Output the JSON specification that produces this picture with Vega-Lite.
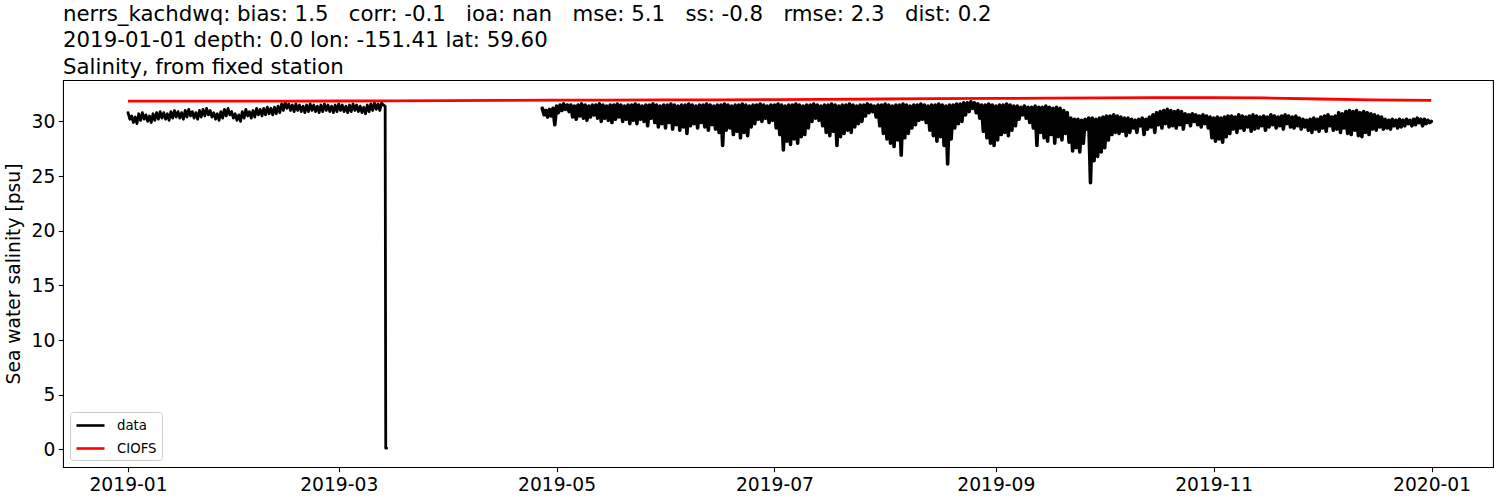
{
"$schema": "https://vega.github.io/schema/vega-lite/v6.json",
"width": 1430, "height": 387,
"autosize": {"type": "none"},
"padding": {"left": 63, "top": 80, "right": 7, "bottom": 33},
"background": "white",
"title": {"text": ["nerrs_kachdwq: bias: 1.5\u00a0\u00a0 corr: -0.1\u00a0\u00a0 ioa: nan\u00a0\u00a0 mse: 5.1\u00a0\u00a0 ss: -0.8\u00a0\u00a0 rmse: 2.3\u00a0\u00a0 dist: 0.2", "2019-01-01 depth: 0.0 lon: -151.41 lat: 59.60", "Salinity, from fixed station"], "anchor": "start", "frame": "group", "fontSize": 21.3, "font": "DejaVu Sans", "fontWeight": "normal", "color": "black", "lineHeight": 26.5, "baseline": "bottom", "offset": -19},
"datasets": {
"d1": [
{"t":"2019-01-01T00:00","v":30.8},{"t":"2019-01-01T12:00","v":30.2},
{"t":"2019-01-02T00:00","v":30.5},{"t":"2019-01-02T12:00","v":29.9},
{"t":"2019-01-03T00:00","v":30.4},{"t":"2019-01-03T12:00","v":29.8},
{"t":"2019-01-04T00:00","v":30.7},{"t":"2019-01-04T12:00","v":30.1},
{"t":"2019-01-05T00:00","v":30.8},{"t":"2019-01-05T12:00","v":30.2},
{"t":"2019-01-06T00:00","v":30.6},{"t":"2019-01-06T12:00","v":30.0},
{"t":"2019-01-07T00:00","v":30.5},{"t":"2019-01-07T12:00","v":29.9},
{"t":"2019-01-08T00:00","v":30.7},{"t":"2019-01-08T12:00","v":30.1},
{"t":"2019-01-09T00:00","v":30.8},{"t":"2019-01-09T12:00","v":30.2},
{"t":"2019-01-10T00:00","v":30.9},{"t":"2019-01-10T12:00","v":30.3},
{"t":"2019-01-11T00:00","v":30.8},{"t":"2019-01-11T12:00","v":30.2},
{"t":"2019-01-12T00:00","v":30.7},{"t":"2019-01-12T12:00","v":30.1},
{"t":"2019-01-13T00:00","v":30.9},{"t":"2019-01-13T12:00","v":30.3},
{"t":"2019-01-14T00:00","v":31.0},{"t":"2019-01-14T12:00","v":30.4},
{"t":"2019-01-15T00:00","v":30.9},{"t":"2019-01-15T12:00","v":30.3},
{"t":"2019-01-16T00:00","v":30.8},{"t":"2019-01-16T12:00","v":30.2},
{"t":"2019-01-17T00:00","v":31.0},{"t":"2019-01-17T12:00","v":30.4},
{"t":"2019-01-18T00:00","v":31.1},{"t":"2019-01-18T12:00","v":30.5},
{"t":"2019-01-19T00:00","v":30.9},{"t":"2019-01-19T12:00","v":30.3},
{"t":"2019-01-20T00:00","v":30.8},{"t":"2019-01-20T12:00","v":30.2},
{"t":"2019-01-21T00:00","v":31.0},{"t":"2019-01-21T12:00","v":30.4},
{"t":"2019-01-22T00:00","v":31.1},{"t":"2019-01-22T12:00","v":30.5},
{"t":"2019-01-23T00:00","v":31.2},{"t":"2019-01-23T12:00","v":30.6},
{"t":"2019-01-24T00:00","v":31.0},{"t":"2019-01-24T12:00","v":30.4},
{"t":"2019-01-25T00:00","v":30.8},{"t":"2019-01-25T12:00","v":30.2},
{"t":"2019-01-26T00:00","v":30.7},{"t":"2019-01-26T12:00","v":30.1},
{"t":"2019-01-27T00:00","v":30.9},{"t":"2019-01-27T12:00","v":30.3},
{"t":"2019-01-28T00:00","v":31.1},{"t":"2019-01-28T12:00","v":30.5},
{"t":"2019-01-29T00:00","v":31.2},{"t":"2019-01-29T12:00","v":30.6},
{"t":"2019-01-30T00:00","v":30.9},{"t":"2019-01-30T12:00","v":30.3},
{"t":"2019-01-31T00:00","v":30.7},{"t":"2019-01-31T12:00","v":30.1},
{"t":"2019-02-01T00:00","v":30.6},{"t":"2019-02-01T12:00","v":30.0},
{"t":"2019-02-02T00:00","v":30.9},{"t":"2019-02-02T12:00","v":30.3},
{"t":"2019-02-03T00:00","v":31.1},{"t":"2019-02-03T12:00","v":30.5},
{"t":"2019-02-04T00:00","v":30.9},{"t":"2019-02-04T12:00","v":30.3},
{"t":"2019-02-05T00:00","v":31.0},{"t":"2019-02-05T12:00","v":30.4},
{"t":"2019-02-06T00:00","v":31.2},{"t":"2019-02-06T12:00","v":30.6},
{"t":"2019-02-07T00:00","v":31.1},{"t":"2019-02-07T12:00","v":30.5},
{"t":"2019-02-08T00:00","v":31.2},{"t":"2019-02-08T12:00","v":30.6},
{"t":"2019-02-09T00:00","v":31.3},{"t":"2019-02-09T12:00","v":30.7},
{"t":"2019-02-10T00:00","v":31.2},{"t":"2019-02-10T12:00","v":30.6},
{"t":"2019-02-11T00:00","v":31.3},{"t":"2019-02-11T12:00","v":30.7},
{"t":"2019-02-12T00:00","v":31.4},{"t":"2019-02-12T12:00","v":30.8},
{"t":"2019-02-13T00:00","v":31.6},{"t":"2019-02-13T12:00","v":31.0},
{"t":"2019-02-14T00:00","v":31.8},{"t":"2019-02-14T12:00","v":31.2},
{"t":"2019-02-15T00:00","v":31.6},{"t":"2019-02-15T12:00","v":31.0},
{"t":"2019-02-16T00:00","v":31.5},{"t":"2019-02-16T12:00","v":30.9},
{"t":"2019-02-17T00:00","v":31.6},{"t":"2019-02-17T12:00","v":31.0},
{"t":"2019-02-18T00:00","v":31.5},{"t":"2019-02-18T12:00","v":30.9},
{"t":"2019-02-19T00:00","v":31.4},{"t":"2019-02-19T12:00","v":30.8},
{"t":"2019-02-20T00:00","v":31.5},{"t":"2019-02-20T12:00","v":30.9},
{"t":"2019-02-21T00:00","v":31.6},{"t":"2019-02-21T12:00","v":31.0},
{"t":"2019-02-22T00:00","v":31.5},{"t":"2019-02-22T12:00","v":30.9},
{"t":"2019-02-23T00:00","v":31.4},{"t":"2019-02-23T12:00","v":30.8},
{"t":"2019-02-24T00:00","v":31.5},{"t":"2019-02-24T12:00","v":30.9},
{"t":"2019-02-25T00:00","v":31.6},{"t":"2019-02-25T12:00","v":31.0},
{"t":"2019-02-26T00:00","v":31.5},{"t":"2019-02-26T12:00","v":30.9},
{"t":"2019-02-27T00:00","v":31.4},{"t":"2019-02-27T12:00","v":30.8},
{"t":"2019-02-28T00:00","v":31.5},{"t":"2019-02-28T12:00","v":30.9},
{"t":"2019-03-01T00:00","v":31.6},{"t":"2019-03-01T12:00","v":31.0},
{"t":"2019-03-02T00:00","v":31.5},{"t":"2019-03-02T12:00","v":30.9},
{"t":"2019-03-03T00:00","v":31.4},{"t":"2019-03-03T12:00","v":30.8},
{"t":"2019-03-04T00:00","v":31.5},{"t":"2019-03-04T12:00","v":30.9},
{"t":"2019-03-05T00:00","v":31.6},{"t":"2019-03-05T12:00","v":31.0},
{"t":"2019-03-06T00:00","v":31.5},{"t":"2019-03-06T12:00","v":30.9},
{"t":"2019-03-07T00:00","v":31.4},{"t":"2019-03-07T12:00","v":30.8},
{"t":"2019-03-08T00:00","v":31.3},{"t":"2019-03-08T12:00","v":30.7},
{"t":"2019-03-09T00:00","v":31.5},{"t":"2019-03-09T12:00","v":30.9},
{"t":"2019-03-10T00:00","v":31.6},{"t":"2019-03-10T12:00","v":31.0},
{"t":"2019-03-11T00:00","v":31.7},{"t":"2019-03-11T12:00","v":31.1},
{"t":"2019-03-12T00:00","v":31.6},{"t":"2019-03-12T12:00","v":31.0},
{"t":"2019-03-13T00:00","v":31.7},{"t":"2019-03-13T12:00","v":31.5},
{"t":"2019-03-14T00:00","v":31.4},{"t":"2019-03-14T04:00","v":0.1},
{"t":"2019-03-14T10:00","v":0.1}
],
"d2": [
{"t":"2019-04-27T00:00","v":31.2},{"t":"2019-04-27T12:00","v":30.6},
{"t":"2019-04-28T00:00","v":31.0},{"t":"2019-04-28T12:00","v":30.4},
{"t":"2019-04-29T00:00","v":31.1},{"t":"2019-04-29T12:00","v":30.5},
{"t":"2019-04-30T00:00","v":31.2},{"t":"2019-04-30T12:00","v":29.7},
{"t":"2019-05-01T00:00","v":31.4},{"t":"2019-05-01T12:00","v":30.8},
{"t":"2019-05-02T00:00","v":31.5},{"t":"2019-05-02T12:00","v":31.0},
{"t":"2019-05-03T00:00","v":31.6},{"t":"2019-05-03T12:00","v":31.1},
{"t":"2019-05-04T00:00","v":31.5},{"t":"2019-05-04T12:00","v":30.9},
{"t":"2019-05-05T00:00","v":31.5},{"t":"2019-05-05T12:00","v":30.4},
{"t":"2019-05-06T00:00","v":31.4},{"t":"2019-05-06T12:00","v":30.2},
{"t":"2019-05-07T00:00","v":31.5},{"t":"2019-05-07T12:00","v":30.5},
{"t":"2019-05-08T00:00","v":31.6},{"t":"2019-05-08T12:00","v":30.3},
{"t":"2019-05-09T00:00","v":31.5},{"t":"2019-05-09T12:00","v":30.1},
{"t":"2019-05-10T00:00","v":31.4},{"t":"2019-05-10T12:00","v":30.4},
{"t":"2019-05-11T00:00","v":31.5},{"t":"2019-05-11T12:00","v":30.6},
{"t":"2019-05-12T00:00","v":31.5},{"t":"2019-05-12T12:00","v":30.3},
{"t":"2019-05-13T00:00","v":31.6},{"t":"2019-05-13T12:00","v":30.0},
{"t":"2019-05-14T00:00","v":31.5},{"t":"2019-05-14T12:00","v":30.3},
{"t":"2019-05-15T00:00","v":31.4},{"t":"2019-05-15T12:00","v":30.1},
{"t":"2019-05-16T00:00","v":31.5},{"t":"2019-05-16T12:00","v":29.9},
{"t":"2019-05-17T00:00","v":31.5},{"t":"2019-05-17T12:00","v":30.2},
{"t":"2019-05-18T00:00","v":31.6},{"t":"2019-05-18T12:00","v":30.4},
{"t":"2019-05-19T00:00","v":31.5},{"t":"2019-05-19T12:00","v":30.0},
{"t":"2019-05-20T00:00","v":31.4},{"t":"2019-05-20T12:00","v":30.2},
{"t":"2019-05-21T00:00","v":31.5},{"t":"2019-05-21T12:00","v":29.8},
{"t":"2019-05-22T00:00","v":31.5},{"t":"2019-05-22T12:00","v":30.1},
{"t":"2019-05-23T00:00","v":31.6},{"t":"2019-05-23T12:00","v":29.8},
{"t":"2019-05-24T00:00","v":31.5},{"t":"2019-05-24T12:00","v":30.2},
{"t":"2019-05-25T00:00","v":31.4},{"t":"2019-05-25T12:00","v":30.0},
{"t":"2019-05-26T00:00","v":31.5},{"t":"2019-05-26T12:00","v":29.6},
{"t":"2019-05-27T00:00","v":31.5},{"t":"2019-05-27T12:00","v":30.3},
{"t":"2019-05-28T00:00","v":31.6},{"t":"2019-05-28T12:00","v":29.9},
{"t":"2019-05-29T00:00","v":31.5},{"t":"2019-05-29T12:00","v":29.5},
{"t":"2019-05-30T00:00","v":31.4},{"t":"2019-05-30T12:00","v":29.8},
{"t":"2019-05-31T00:00","v":31.5},{"t":"2019-05-31T12:00","v":29.4},
{"t":"2019-06-01T00:00","v":31.5},{"t":"2019-06-01T12:00","v":29.9},
{"t":"2019-06-02T00:00","v":31.6},{"t":"2019-06-02T12:00","v":29.3},
{"t":"2019-06-03T00:00","v":31.5},{"t":"2019-06-03T12:00","v":29.7},
{"t":"2019-06-04T00:00","v":31.4},{"t":"2019-06-04T12:00","v":29.2},
{"t":"2019-06-05T00:00","v":31.5},{"t":"2019-06-05T12:00","v":29.5},
{"t":"2019-06-06T00:00","v":31.5},{"t":"2019-06-06T12:00","v":28.9},
{"t":"2019-06-07T00:00","v":31.6},{"t":"2019-06-07T12:00","v":29.6},
{"t":"2019-06-08T00:00","v":31.5},{"t":"2019-06-08T12:00","v":29.8},
{"t":"2019-06-09T00:00","v":31.4},{"t":"2019-06-09T12:00","v":29.4},
{"t":"2019-06-10T00:00","v":31.5},{"t":"2019-06-10T12:00","v":29.9},
{"t":"2019-06-11T00:00","v":31.5},{"t":"2019-06-11T12:00","v":29.5},
{"t":"2019-06-12T00:00","v":31.6},{"t":"2019-06-12T12:00","v":29.2},
{"t":"2019-06-13T00:00","v":31.5},{"t":"2019-06-13T12:00","v":29.7},
{"t":"2019-06-14T00:00","v":31.4},{"t":"2019-06-14T12:00","v":29.3},
{"t":"2019-06-15T00:00","v":31.5},{"t":"2019-06-15T12:00","v":29.0},
{"t":"2019-06-16T00:00","v":31.5},{"t":"2019-06-16T12:00","v":27.8},
{"t":"2019-06-17T00:00","v":31.6},{"t":"2019-06-17T12:00","v":29.2},
{"t":"2019-06-18T00:00","v":31.5},{"t":"2019-06-18T12:00","v":29.4},
{"t":"2019-06-19T00:00","v":31.4},{"t":"2019-06-19T12:00","v":28.8},
{"t":"2019-06-20T00:00","v":31.5},{"t":"2019-06-20T12:00","v":29.1},
{"t":"2019-06-21T00:00","v":31.5},{"t":"2019-06-21T12:00","v":28.5},
{"t":"2019-06-22T00:00","v":31.6},{"t":"2019-06-22T12:00","v":29.0},
{"t":"2019-06-23T00:00","v":31.5},{"t":"2019-06-23T12:00","v":28.7},
{"t":"2019-06-24T00:00","v":31.4},{"t":"2019-06-24T12:00","v":29.5},
{"t":"2019-06-25T00:00","v":31.5},{"t":"2019-06-25T12:00","v":29.8},
{"t":"2019-06-26T00:00","v":31.5},{"t":"2019-06-26T12:00","v":30.2},
{"t":"2019-06-27T00:00","v":31.6},{"t":"2019-06-27T12:00","v":30.0},
{"t":"2019-06-28T00:00","v":31.5},{"t":"2019-06-28T12:00","v":30.3},
{"t":"2019-06-29T00:00","v":31.4},{"t":"2019-06-29T12:00","v":29.9},
{"t":"2019-06-30T00:00","v":31.5},{"t":"2019-06-30T12:00","v":30.1},
{"t":"2019-07-01T00:00","v":31.5},{"t":"2019-07-01T12:00","v":29.4},
{"t":"2019-07-02T00:00","v":31.6},{"t":"2019-07-02T12:00","v":28.8},
{"t":"2019-07-03T00:00","v":31.5},{"t":"2019-07-03T12:00","v":27.4},
{"t":"2019-07-04T00:00","v":31.4},{"t":"2019-07-04T12:00","v":28.2},
{"t":"2019-07-05T00:00","v":31.5},{"t":"2019-07-05T12:00","v":27.9},
{"t":"2019-07-06T00:00","v":31.5},{"t":"2019-07-06T12:00","v":28.4},
{"t":"2019-07-07T00:00","v":31.6},{"t":"2019-07-07T12:00","v":28.0},
{"t":"2019-07-08T00:00","v":31.5},{"t":"2019-07-08T12:00","v":28.6},
{"t":"2019-07-09T00:00","v":31.4},{"t":"2019-07-09T12:00","v":28.8},
{"t":"2019-07-10T00:00","v":31.5},{"t":"2019-07-10T12:00","v":29.4},
{"t":"2019-07-11T00:00","v":31.5},{"t":"2019-07-11T12:00","v":30.0},
{"t":"2019-07-12T00:00","v":31.6},{"t":"2019-07-12T12:00","v":30.3},
{"t":"2019-07-13T00:00","v":31.5},{"t":"2019-07-13T12:00","v":30.1},
{"t":"2019-07-14T00:00","v":31.4},{"t":"2019-07-14T12:00","v":29.6},
{"t":"2019-07-15T00:00","v":31.5},{"t":"2019-07-15T12:00","v":29.0},
{"t":"2019-07-16T00:00","v":31.5},{"t":"2019-07-16T12:00","v":28.7},
{"t":"2019-07-17T00:00","v":31.6},{"t":"2019-07-17T12:00","v":29.1},
{"t":"2019-07-18T00:00","v":31.5},{"t":"2019-07-18T12:00","v":27.8},
{"t":"2019-07-19T00:00","v":31.4},{"t":"2019-07-19T12:00","v":28.6},
{"t":"2019-07-20T00:00","v":31.5},{"t":"2019-07-20T12:00","v":28.9},
{"t":"2019-07-21T00:00","v":31.5},{"t":"2019-07-21T12:00","v":29.2},
{"t":"2019-07-22T00:00","v":31.6},{"t":"2019-07-22T12:00","v":29.0},
{"t":"2019-07-23T00:00","v":31.5},{"t":"2019-07-23T12:00","v":29.5},
{"t":"2019-07-24T00:00","v":31.4},{"t":"2019-07-24T12:00","v":29.8},
{"t":"2019-07-25T00:00","v":31.5},{"t":"2019-07-25T12:00","v":30.0},
{"t":"2019-07-26T00:00","v":31.5},{"t":"2019-07-26T12:00","v":30.5},
{"t":"2019-07-27T00:00","v":31.6},{"t":"2019-07-27T12:00","v":30.8},
{"t":"2019-07-28T00:00","v":31.5},{"t":"2019-07-28T12:00","v":30.9},
{"t":"2019-07-29T00:00","v":31.4},{"t":"2019-07-29T12:00","v":30.4},
{"t":"2019-07-30T00:00","v":31.5},{"t":"2019-07-30T12:00","v":29.6},
{"t":"2019-07-31T00:00","v":31.5},{"t":"2019-07-31T12:00","v":28.9},
{"t":"2019-08-01T00:00","v":31.6},{"t":"2019-08-01T12:00","v":28.4},
{"t":"2019-08-02T00:00","v":31.5},{"t":"2019-08-02T12:00","v":28.0},
{"t":"2019-08-03T00:00","v":31.4},{"t":"2019-08-03T12:00","v":27.7},
{"t":"2019-08-04T00:00","v":31.5},{"t":"2019-08-04T12:00","v":28.3},
{"t":"2019-08-05T00:00","v":31.5},{"t":"2019-08-05T12:00","v":26.9},
{"t":"2019-08-06T00:00","v":31.6},{"t":"2019-08-06T12:00","v":28.5},
{"t":"2019-08-07T00:00","v":31.5},{"t":"2019-08-07T12:00","v":28.9},
{"t":"2019-08-08T00:00","v":31.4},{"t":"2019-08-08T12:00","v":29.4},
{"t":"2019-08-09T00:00","v":31.5},{"t":"2019-08-09T12:00","v":29.7},
{"t":"2019-08-10T00:00","v":31.5},{"t":"2019-08-10T12:00","v":30.1},
{"t":"2019-08-11T00:00","v":31.6},{"t":"2019-08-11T12:00","v":30.2},
{"t":"2019-08-12T00:00","v":31.5},{"t":"2019-08-12T12:00","v":29.9},
{"t":"2019-08-13T00:00","v":31.4},{"t":"2019-08-13T12:00","v":29.2},
{"t":"2019-08-14T00:00","v":31.5},{"t":"2019-08-14T12:00","v":28.7},
{"t":"2019-08-15T00:00","v":31.5},{"t":"2019-08-15T12:00","v":28.2},
{"t":"2019-08-16T00:00","v":31.6},{"t":"2019-08-16T12:00","v":28.6},
{"t":"2019-08-17T00:00","v":31.5},{"t":"2019-08-17T12:00","v":27.8},
{"t":"2019-08-18T00:00","v":31.4},{"t":"2019-08-18T12:00","v":26.1},
{"t":"2019-08-19T00:00","v":31.5},{"t":"2019-08-19T12:00","v":28.4},
{"t":"2019-08-20T00:00","v":31.5},{"t":"2019-08-20T12:00","v":29.4},
{"t":"2019-08-21T00:00","v":31.6},{"t":"2019-08-21T12:00","v":29.8},
{"t":"2019-08-22T00:00","v":31.6},{"t":"2019-08-22T12:00","v":30.0},
{"t":"2019-08-23T00:00","v":31.7},{"t":"2019-08-23T12:00","v":30.6},
{"t":"2019-08-24T00:00","v":31.7},{"t":"2019-08-24T12:00","v":30.9},
{"t":"2019-08-25T00:00","v":31.8},{"t":"2019-08-25T12:00","v":31.2},
{"t":"2019-08-26T00:00","v":31.7},{"t":"2019-08-26T12:00","v":30.8},
{"t":"2019-08-27T00:00","v":31.6},{"t":"2019-08-27T12:00","v":30.3},
{"t":"2019-08-28T00:00","v":31.5},{"t":"2019-08-28T12:00","v":29.1},
{"t":"2019-08-29T00:00","v":31.5},{"t":"2019-08-29T12:00","v":28.5},
{"t":"2019-08-30T00:00","v":31.6},{"t":"2019-08-30T12:00","v":28.0},
{"t":"2019-08-31T00:00","v":31.5},{"t":"2019-08-31T12:00","v":27.8},
{"t":"2019-09-01T00:00","v":31.4},{"t":"2019-09-01T12:00","v":28.3},
{"t":"2019-09-02T00:00","v":31.5},{"t":"2019-09-02T12:00","v":28.8},
{"t":"2019-09-03T00:00","v":31.5},{"t":"2019-09-03T12:00","v":29.0},
{"t":"2019-09-04T00:00","v":31.6},{"t":"2019-09-04T12:00","v":28.7},
{"t":"2019-09-05T00:00","v":31.5},{"t":"2019-09-05T12:00","v":29.2},
{"t":"2019-09-06T00:00","v":31.4},{"t":"2019-09-06T12:00","v":29.6},
{"t":"2019-09-07T00:00","v":31.4},{"t":"2019-09-07T12:00","v":30.2},
{"t":"2019-09-08T00:00","v":31.3},{"t":"2019-09-08T12:00","v":30.6},
{"t":"2019-09-09T00:00","v":31.4},{"t":"2019-09-09T12:00","v":30.3},
{"t":"2019-09-10T00:00","v":31.3},{"t":"2019-09-10T12:00","v":29.9},
{"t":"2019-09-11T00:00","v":31.3},{"t":"2019-09-11T12:00","v":29.4},
{"t":"2019-09-12T00:00","v":31.4},{"t":"2019-09-12T12:00","v":27.8},
{"t":"2019-09-13T00:00","v":31.3},{"t":"2019-09-13T12:00","v":29.0},
{"t":"2019-09-14T00:00","v":31.3},{"t":"2019-09-14T12:00","v":28.5},
{"t":"2019-09-15T00:00","v":31.4},{"t":"2019-09-15T12:00","v":28.2},
{"t":"2019-09-16T00:00","v":31.3},{"t":"2019-09-16T12:00","v":28.8},
{"t":"2019-09-17T00:00","v":31.2},{"t":"2019-09-17T12:00","v":28.0},
{"t":"2019-09-18T00:00","v":31.3},{"t":"2019-09-18T12:00","v":28.6},
{"t":"2019-09-19T00:00","v":31.2},{"t":"2019-09-19T12:00","v":28.3},
{"t":"2019-09-20T00:00","v":31.0},{"t":"2019-09-20T12:00","v":28.9},
{"t":"2019-09-21T00:00","v":30.8},{"t":"2019-09-21T12:00","v":28.1},
{"t":"2019-09-22T00:00","v":30.3},{"t":"2019-09-22T12:00","v":27.3},
{"t":"2019-09-23T00:00","v":30.2},{"t":"2019-09-23T12:00","v":27.6},
{"t":"2019-09-24T00:00","v":30.2},{"t":"2019-09-24T12:00","v":27.2},
{"t":"2019-09-25T00:00","v":30.1},{"t":"2019-09-25T12:00","v":28.0},
{"t":"2019-09-26T00:00","v":30.2},{"t":"2019-09-26T12:00","v":29.3},
{"t":"2019-09-27T00:00","v":30.3},{"t":"2019-09-27T12:00","v":24.4},
{"t":"2019-09-28T00:00","v":30.3},{"t":"2019-09-28T12:00","v":26.4},
{"t":"2019-09-29T00:00","v":30.2},{"t":"2019-09-29T12:00","v":26.8},
{"t":"2019-09-30T00:00","v":30.3},{"t":"2019-09-30T12:00","v":27.2},
{"t":"2019-10-01T00:00","v":30.4},{"t":"2019-10-01T12:00","v":27.6},
{"t":"2019-10-02T00:00","v":30.5},{"t":"2019-10-02T12:00","v":28.3},
{"t":"2019-10-03T00:00","v":30.5},{"t":"2019-10-03T12:00","v":28.8},
{"t":"2019-10-04T00:00","v":30.6},{"t":"2019-10-04T12:00","v":29.0},
{"t":"2019-10-05T00:00","v":30.5},{"t":"2019-10-05T12:00","v":28.9},
{"t":"2019-10-06T00:00","v":30.4},{"t":"2019-10-06T12:00","v":29.1},
{"t":"2019-10-07T00:00","v":30.3},{"t":"2019-10-07T12:00","v":28.7},
{"t":"2019-10-08T00:00","v":30.3},{"t":"2019-10-08T12:00","v":29.0},
{"t":"2019-10-09T00:00","v":30.2},{"t":"2019-10-09T12:00","v":29.4},
{"t":"2019-10-10T00:00","v":30.1},{"t":"2019-10-10T12:00","v":29.0},
{"t":"2019-10-11T00:00","v":30.2},{"t":"2019-10-11T12:00","v":29.6},
{"t":"2019-10-12T00:00","v":30.3},{"t":"2019-10-12T12:00","v":28.8},
{"t":"2019-10-13T00:00","v":30.2},{"t":"2019-10-13T12:00","v":29.3},
{"t":"2019-10-14T00:00","v":30.4},{"t":"2019-10-14T12:00","v":29.5},
{"t":"2019-10-15T00:00","v":30.6},{"t":"2019-10-15T12:00","v":29.0},
{"t":"2019-10-16T00:00","v":30.8},{"t":"2019-10-16T12:00","v":29.7},
{"t":"2019-10-17T00:00","v":30.9},{"t":"2019-10-17T12:00","v":29.4},
{"t":"2019-10-18T00:00","v":31.0},{"t":"2019-10-18T12:00","v":29.8},
{"t":"2019-10-19T00:00","v":31.1},{"t":"2019-10-19T12:00","v":29.5},
{"t":"2019-10-20T00:00","v":31.0},{"t":"2019-10-20T12:00","v":29.6},
{"t":"2019-10-21T00:00","v":30.9},{"t":"2019-10-21T12:00","v":29.4},
{"t":"2019-10-22T00:00","v":31.0},{"t":"2019-10-22T12:00","v":29.7},
{"t":"2019-10-23T00:00","v":30.9},{"t":"2019-10-23T12:00","v":29.3},
{"t":"2019-10-24T00:00","v":30.7},{"t":"2019-10-24T12:00","v":29.9},
{"t":"2019-10-25T00:00","v":30.6},{"t":"2019-10-25T12:00","v":29.6},
{"t":"2019-10-26T00:00","v":30.7},{"t":"2019-10-26T12:00","v":30.0},
{"t":"2019-10-27T00:00","v":30.6},{"t":"2019-10-27T12:00","v":29.7},
{"t":"2019-10-28T00:00","v":30.5},{"t":"2019-10-28T12:00","v":29.5},
{"t":"2019-10-29T00:00","v":30.6},{"t":"2019-10-29T12:00","v":29.8},
{"t":"2019-10-30T00:00","v":30.5},{"t":"2019-10-30T12:00","v":29.4},
{"t":"2019-10-31T00:00","v":30.4},{"t":"2019-10-31T12:00","v":28.5},
{"t":"2019-11-01T00:00","v":30.3},{"t":"2019-11-01T12:00","v":28.2},
{"t":"2019-11-02T00:00","v":30.4},{"t":"2019-11-02T12:00","v":28.4},
{"t":"2019-11-03T00:00","v":30.3},{"t":"2019-11-03T12:00","v":28.1},
{"t":"2019-11-04T00:00","v":30.4},{"t":"2019-11-04T12:00","v":28.6},
{"t":"2019-11-05T00:00","v":30.5},{"t":"2019-11-05T12:00","v":28.9},
{"t":"2019-11-06T00:00","v":30.5},{"t":"2019-11-06T12:00","v":29.3},
{"t":"2019-11-07T00:00","v":30.4},{"t":"2019-11-07T12:00","v":29.0},
{"t":"2019-11-08T00:00","v":30.6},{"t":"2019-11-08T12:00","v":29.4},
{"t":"2019-11-09T00:00","v":30.5},{"t":"2019-11-09T12:00","v":29.2},
{"t":"2019-11-10T00:00","v":30.4},{"t":"2019-11-10T12:00","v":29.5},
{"t":"2019-11-11T00:00","v":30.5},{"t":"2019-11-11T12:00","v":29.1},
{"t":"2019-11-12T00:00","v":30.6},{"t":"2019-11-12T12:00","v":29.3},
{"t":"2019-11-13T00:00","v":30.5},{"t":"2019-11-13T12:00","v":29.4},
{"t":"2019-11-14T00:00","v":30.4},{"t":"2019-11-14T12:00","v":29.6},
{"t":"2019-11-15T00:00","v":30.5},{"t":"2019-11-15T12:00","v":29.2},
{"t":"2019-11-16T00:00","v":30.4},{"t":"2019-11-16T12:00","v":29.5},
{"t":"2019-11-17T00:00","v":30.6},{"t":"2019-11-17T12:00","v":29.7},
{"t":"2019-11-18T00:00","v":30.5},{"t":"2019-11-18T12:00","v":29.4},
{"t":"2019-11-19T00:00","v":30.4},{"t":"2019-11-19T12:00","v":29.6},
{"t":"2019-11-20T00:00","v":30.5},{"t":"2019-11-20T12:00","v":29.3},
{"t":"2019-11-21T00:00","v":30.6},{"t":"2019-11-21T12:00","v":29.8},
{"t":"2019-11-22T00:00","v":30.5},{"t":"2019-11-22T12:00","v":29.5},
{"t":"2019-11-23T00:00","v":30.4},{"t":"2019-11-23T12:00","v":29.4},
{"t":"2019-11-24T00:00","v":30.5},{"t":"2019-11-24T12:00","v":29.6},
{"t":"2019-11-25T00:00","v":30.3},{"t":"2019-11-25T12:00","v":29.3},
{"t":"2019-11-26T00:00","v":30.2},{"t":"2019-11-26T12:00","v":29.5},
{"t":"2019-11-27T00:00","v":30.1},{"t":"2019-11-27T12:00","v":29.2},
{"t":"2019-11-28T00:00","v":30.2},{"t":"2019-11-28T12:00","v":29.0},
{"t":"2019-11-29T00:00","v":30.3},{"t":"2019-11-29T12:00","v":29.3},
{"t":"2019-11-30T00:00","v":30.2},{"t":"2019-11-30T12:00","v":29.1},
{"t":"2019-12-01T00:00","v":30.4},{"t":"2019-12-01T12:00","v":29.4},
{"t":"2019-12-02T00:00","v":30.5},{"t":"2019-12-02T12:00","v":29.1},
{"t":"2019-12-03T00:00","v":30.6},{"t":"2019-12-03T12:00","v":29.6},
{"t":"2019-12-04T00:00","v":30.4},{"t":"2019-12-04T12:00","v":29.2},
{"t":"2019-12-05T00:00","v":30.5},{"t":"2019-12-05T12:00","v":29.3},
{"t":"2019-12-06T00:00","v":30.8},{"t":"2019-12-06T12:00","v":29.0},
{"t":"2019-12-07T00:00","v":30.7},{"t":"2019-12-07T12:00","v":29.4},
{"t":"2019-12-08T00:00","v":30.9},{"t":"2019-12-08T12:00","v":28.9},
{"t":"2019-12-09T00:00","v":31.0},{"t":"2019-12-09T12:00","v":28.8},
{"t":"2019-12-10T00:00","v":30.9},{"t":"2019-12-10T12:00","v":29.2},
{"t":"2019-12-11T00:00","v":31.0},{"t":"2019-12-11T12:00","v":28.7},
{"t":"2019-12-12T00:00","v":30.8},{"t":"2019-12-12T12:00","v":28.6},
{"t":"2019-12-13T00:00","v":30.9},{"t":"2019-12-13T12:00","v":29.0},
{"t":"2019-12-14T00:00","v":30.8},{"t":"2019-12-14T12:00","v":28.8},
{"t":"2019-12-15T00:00","v":30.7},{"t":"2019-12-15T12:00","v":29.3},
{"t":"2019-12-16T00:00","v":30.6},{"t":"2019-12-16T12:00","v":29.2},
{"t":"2019-12-17T00:00","v":30.5},{"t":"2019-12-17T12:00","v":29.5},
{"t":"2019-12-18T00:00","v":30.4},{"t":"2019-12-18T12:00","v":29.3},
{"t":"2019-12-19T00:00","v":30.2},{"t":"2019-12-19T12:00","v":29.4},
{"t":"2019-12-20T00:00","v":30.1},{"t":"2019-12-20T12:00","v":29.3},
{"t":"2019-12-21T00:00","v":30.2},{"t":"2019-12-21T12:00","v":29.6},
{"t":"2019-12-22T00:00","v":30.1},{"t":"2019-12-22T12:00","v":29.4},
{"t":"2019-12-23T00:00","v":30.2},{"t":"2019-12-23T12:00","v":29.5},
{"t":"2019-12-24T00:00","v":30.1},{"t":"2019-12-24T12:00","v":29.6},
{"t":"2019-12-25T00:00","v":30.2},{"t":"2019-12-25T12:00","v":29.8},
{"t":"2019-12-26T00:00","v":30.1},{"t":"2019-12-26T12:00","v":29.6},
{"t":"2019-12-27T00:00","v":30.2},{"t":"2019-12-27T12:00","v":29.7},
{"t":"2019-12-28T00:00","v":30.3},{"t":"2019-12-28T12:00","v":29.9},
{"t":"2019-12-29T00:00","v":30.2},{"t":"2019-12-29T12:00","v":29.6},
{"t":"2019-12-30T00:00","v":30.2},{"t":"2019-12-30T12:00","v":29.8},
{"t":"2019-12-31T00:00","v":30.1},{"t":"2019-12-31T12:00","v":29.9},
{"t":"2019-12-31T22:00","v":30.0}
],
"m": [
{"t":"2019-01-01T00:00","v":31.85},{"t":"2019-01-15T00:00","v":31.85},
{"t":"2019-02-01T00:00","v":31.86},{"t":"2019-02-15T00:00","v":31.86},
{"t":"2019-03-01T00:00","v":31.87},{"t":"2019-03-15T00:00","v":31.88},
{"t":"2019-04-01T00:00","v":31.9},{"t":"2019-04-15T00:00","v":31.92},
{"t":"2019-05-01T00:00","v":31.95},{"t":"2019-05-15T00:00","v":31.95},
{"t":"2019-06-01T00:00","v":31.97},{"t":"2019-06-15T00:00","v":31.98},
{"t":"2019-07-01T00:00","v":32.0},{"t":"2019-07-15T00:00","v":32.02},
{"t":"2019-08-01T00:00","v":32.05},{"t":"2019-08-15T00:00","v":32.08},
{"t":"2019-09-01T00:00","v":32.1},{"t":"2019-09-15T00:00","v":32.13},
{"t":"2019-10-01T00:00","v":32.15},{"t":"2019-10-15T00:00","v":32.17},
{"t":"2019-11-01T00:00","v":32.17},{"t":"2019-11-15T00:00","v":32.15},
{"t":"2019-12-01T00:00","v":32.05},{"t":"2019-12-15T00:00","v":31.98},
{"t":"2019-12-31T22:00","v":31.93}
]
},
"encoding": {
"x": {"field": "t", "type": "temporal", "title": null,
 "scale": {"domain": [{"year": 2018, "month": 12, "date": 13, "hours": 19}, {"year": 2020, "month": 1, "date": 18, "hours": 5}]},
 "axis": {"values": [{"year": 2019, "month": 1, "date": 1}, {"year": 2019, "month": 3, "date": 1}, {"year": 2019, "month": 5, "date": 1}, {"year": 2019, "month": 7, "date": 1}, {"year": 2019, "month": 9, "date": 1}, {"year": 2019, "month": 11, "date": 1}, {"year": 2020, "month": 1, "date": 1}], "format": "%Y-%m", "labelFlush": false, "labelOverlap": false}},
"y": {"field": "v", "type": "quantitative", "title": "Sea water salinity [psu]",
 "scale": {"domain": [-1.62, 33.79], "nice": false, "zero": false},
 "axis": {"values": [0, 5, 10, 15, 20, 25, 30]}}
},
"layer": [
{"data": {"name": "d1"}, "mark": {"type": "line", "strokeWidth": 2.8, "strokeCap": "round", "strokeJoin": "round"},
 "encoding": {"color": {"datum": "data", "type": "nominal", "scale": {"domain": ["data", "CIOFS"], "range": ["#000000", "#ff0000"]}, "legend": {"title": null}}}},
{"data": {"name": "d2"}, "mark": {"type": "line", "strokeWidth": 3.6, "strokeCap": "round", "strokeJoin": "round"},
 "encoding": {"color": {"datum": "data", "type": "nominal"}}},
{"data": {"name": "m"}, "mark": {"type": "line", "strokeWidth": 2.8, "strokeCap": "butt"},
 "encoding": {"color": {"datum": "CIOFS", "type": "nominal"}}}
],
"config": {
 "font": "DejaVu Sans",
 "view": {"stroke": "black", "strokeWidth": 1.07},
 "axis": {"grid": false, "domain": false, "tickColor": "black", "tickSize": 4.7, "tickWidth": 1.07, "labelFont": "DejaVu Sans", "labelFontSize": 18.7, "labelColor": "black", "labelPadding": 3.5, "titleFont": "DejaVu Sans", "titleFontSize": 18.7, "titleFontWeight": "normal", "titleColor": "black"},
 "axisY": {"titlePadding": 8},
 "legend": {"orient": "bottom-left", "offset": 7, "padding": 5, "strokeColor": "#cccccc", "fillColor": "white", "cornerRadius": 3, "labelFont": "DejaVu Sans", "labelFontSize": 13.3, "labelColor": "black", "rowPadding": 8, "labelOffset": 25, "symbolType": "M-1,0H3", "symbolSize": 196, "symbolStrokeWidth": 2.6}
}
}
